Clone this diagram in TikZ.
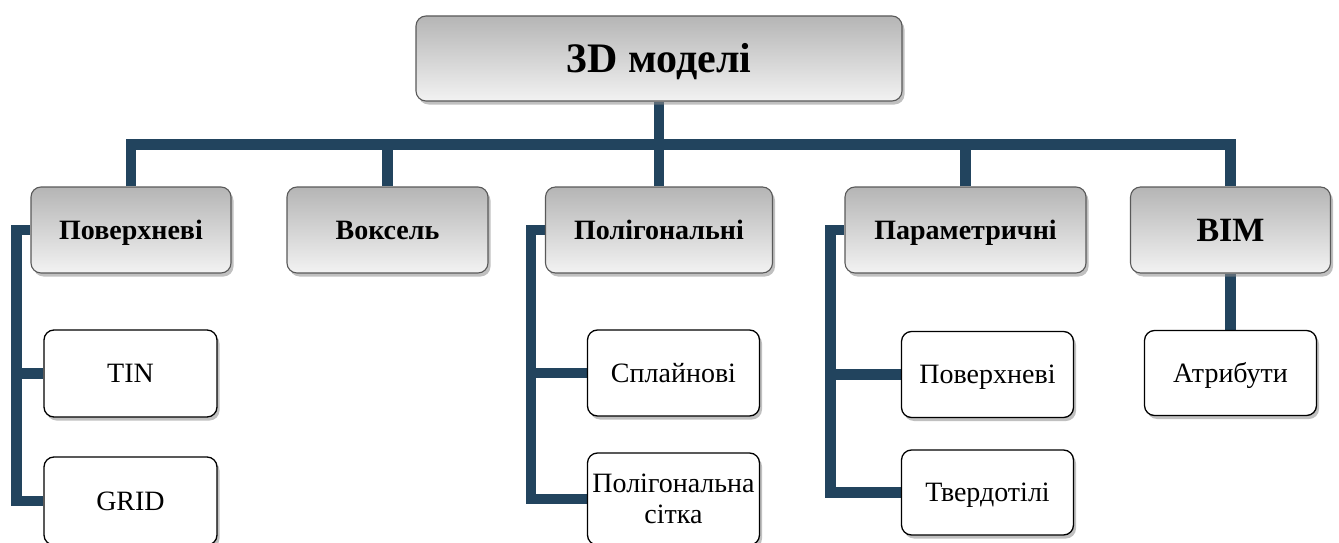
\documentclass[tikz,border=0pt]{standalone}
\usepackage{fontspec}
\setmainfont{Liberation Serif}
\usetikzlibrary{shadows,backgrounds}
\definecolor{linkblue}{HTML}{22445E}
\begin{document}
\begin{tikzpicture}[x=1pt,y=-1pt,
  conn/.style={draw=linkblue, line width=10.5pt},
  box/.style={rectangle, rounded corners=10pt, inner sep=0pt, align=center,
    drop shadow={shadow xshift=2.5pt, shadow yshift=-3.5pt, fill=black!45, opacity=0.55}},
  % single-line labels are centred on their capital height
  capline/.style={text height=#1, text depth=0pt},
  group/.style={box, draw=gray!70!black, line width=1.1pt,
    top color=gray!58, bottom color=gray!10,
    minimum height=86pt, font=\bfseries\fontsize{28}{32}\selectfont, capline=18.5pt},
  leaf/.style={box, draw=black, line width=1.3pt, fill=white,
    minimum width=172pt, minimum height=86pt, font=\fontsize{28}{31}\selectfont},
  leafone/.style={leaf, capline=18.5pt},
]
\useasboundingbox (0,0) rectangle (1339,543);
\clip (0,0) rectangle (1339,543);

% root
\node[group, minimum width=486pt, minimum height=85pt,
      font=\bfseries\fontsize{42}{48}\selectfont, capline=27.8pt] (root) at (659,58.5) {3D моделі};

% model families
\node[group, minimum width=200pt] (pov)   at (131,230)    {Поверхневі};
\node[group, minimum width=201pt] (vox)   at (387.5,230)  {Воксель};
\node[group, minimum width=227pt] (poly)  at (659,230)    {Полігональні};
\node[group, minimum width=241pt] (param) at (965.5,230)  {Параметричні};
\node[group, minimum width=200pt, font=\bfseries\fontsize{34}{38}\selectfont, capline=22.5pt] (bim) at (1230.5,230) {BIM};

% subtypes
\node[leafone, minimum width=173pt, minimum height=87pt] (tin)  at (130.5,373.5) {TIN};
\node[leafone, minimum width=173pt, minimum height=88pt] (grid) at (130.5,501)   {GRID};
\node[leafone] (spl)  at (673.5,373) {Сплайнові};
\node[leaf, minimum height=92pt] (mesh) at (673.5,499) {Полігональна\\сітка};
\node[leafone] (psurf) at (987.5,374.5) {Поверхневі};
\node[leafone, minimum height=85pt] (solid) at (987.5,492.5) {Твердотілі};
\node[leafone, minimum height=85pt] (attr)  at (1230.5,373) {Атрибути};

% connectors
\begin{scope}[on background layer]
  \draw[conn] (root.south) -- (poly.north);
  \draw[conn] (pov.north) -- ++(0,-42) -| (bim.north);
  \draw[conn] (vox.north) -- ++(0,-42);
  \draw[conn] (param.north) -- ++(0,-42);

  \draw[conn] (pov.west) -- ++(-14,0) |- (grid.west);
  \draw[conn] (pov.west) ++(-14,0) |- (tin.west);

  \draw[conn] (poly.west) -- ++(-14,0) |- (mesh.west);
  \draw[conn] (poly.west) ++(-14,0) |- (spl.west);

  \draw[conn] (param.west) -- ++(-14,0) |- (solid.west);
  \draw[conn] (param.west) ++(-14,0) |- (psurf.west);

  \draw[conn] (bim.south) -- (attr.north);
\end{scope}
\end{tikzpicture}
\end{document}
